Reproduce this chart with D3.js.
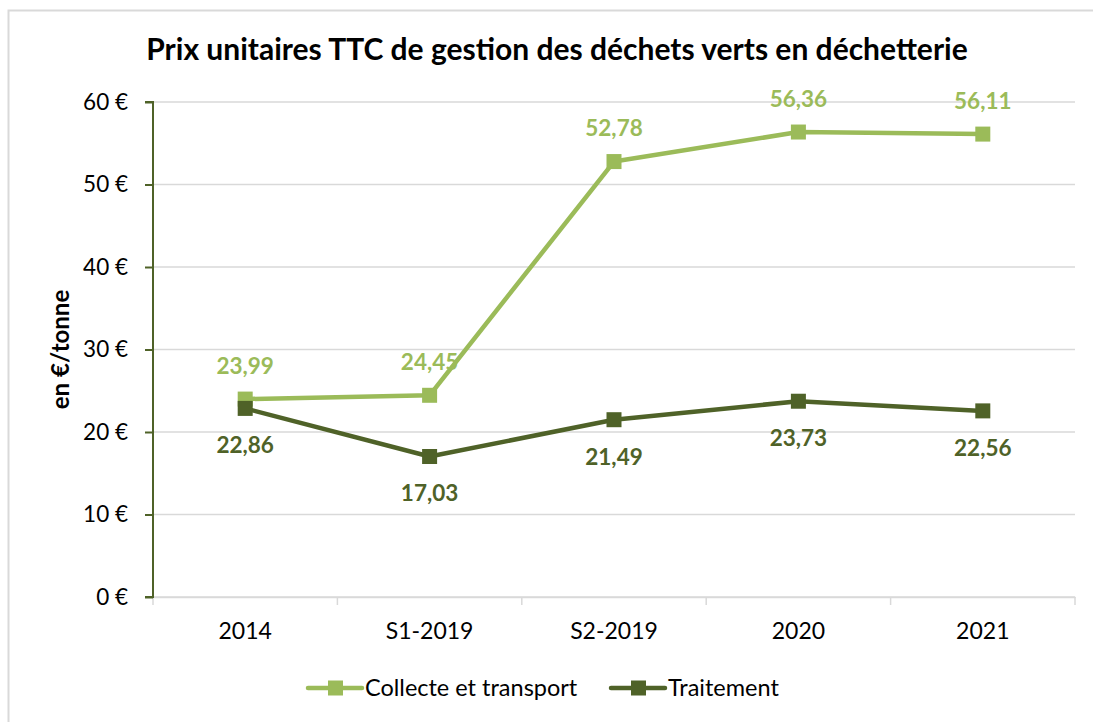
<!DOCTYPE html>
<html>
<head>
<meta charset="utf-8">
<script src="https://cdn.jsdelivr.net/npm/d3@7"></script>
<style>
  body { margin: 0; background: #fff; }
  text { font-family: Lato, "Open Sans", sans-serif; }
</style>
</head>
<body>
<div id="chart"></div>
<script>
const categories = ['2014', 'S1-2019', 'S2-2019', '2020', '2021'];
const collecte = [23.99, 24.45, 52.78, 56.36, 56.11];
const traitement = [22.86, 17.03, 21.49, 23.73, 22.56];
const yTicks = [0, 10, 20, 30, 40, 50, 60];

const series = [
  { name: 'Collecte et transport', values: collecte, color: '#9BBB59', dy: -33 },
  { name: 'Traitement', values: traitement, color: '#4F6228', dy: 37 }
];

const W = 1093, H = 722;
const margin = { top: 102, right: 18, bottom: 125, left: 153 };
const width = W - margin.left - margin.right,
  height = H - margin.top - margin.bottom;

const svg = d3.select('#chart').append('svg')
  .attr('width', W)
  .attr('height', H);

// chart border
svg.append('rect')
  .attr('x', 8.5).attr('y', 10.5)
  .attr('width', W).attr('height', H)
  .attr('fill', 'none')
  .attr('stroke', '#d9d9d9')
  .attr('stroke-width', 2);

svg.append('text')
  .attr('x', 557).attr('y', 60)
  .attr('text-anchor', 'middle')
  .attr('font-size', 30)
  .attr('font-weight', 'bold')
  .text('Prix unitaires TTC de gestion des déchets verts en déchetterie');

const g = svg.append('g')
  .attr('transform', `translate(${margin.left}, ${margin.top})`);

const x = d3.scaleBand().domain(categories).range([0, width]);
const y = d3.scaleLinear().domain([0, 60]).range([height, 0]);

// gridlines
g.append('g')
  .selectAll('line')
  .data(yTicks)
  .enter().append('line')
  .attr('x1', 0).attr('x2', width)
  .attr('y1', d => y(d)).attr('y2', d => y(d))
  .attr('stroke', '#d9d9d9')
  .attr('stroke-width', 1.5);

// x axis
const xAxis = g.append('g')
  .attr('transform', `translate(0, ${height})`)
  .call(d3.axisBottom(x).tickSize(0).tickPadding(26));
xAxis.select('.domain').attr('stroke', '#d9d9d9').attr('stroke-width', 1.5);
xAxis.selectAll('text').attr('font-size', 23).attr('fill', '#000')
  .style('font-family', 'Lato, "Open Sans", sans-serif');
xAxis.selectAll('.boundary')
  .data(d3.range(categories.length + 1))
  .enter().append('line')
  .attr('x1', i => i * x.step()).attr('x2', i => i * x.step())
  .attr('y1', 0).attr('y2', 8)
  .attr('stroke', '#d9d9d9')
  .attr('stroke-width', 1.5);

// y axis
const yAxis = g.append('g')
  .call(d3.axisLeft(y).tickValues(yTicks).tickSize(8).tickPadding(17)
    .tickFormat(d => d + ' €'));
yAxis.select('.domain').attr('stroke', '#4F6228').attr('stroke-width', 2)
  .attr('d', `M-8,0H0V${height}H-8`);
yAxis.selectAll('line').attr('stroke', '#4F6228').attr('stroke-width', 2);
yAxis.selectAll('text').attr('font-size', 22.5).attr('fill', '#000')
  .style('font-family', 'Lato, "Open Sans", sans-serif');

svg.append('text')
  .attr('transform', `translate(69, ${margin.top + height / 2}) rotate(-90)`)
  .attr('text-anchor', 'middle')
  .attr('font-size', 24)
  .attr('font-weight', 'bold')
  .text('en €/tonne');

const cx = (d, i) => x(categories[i]) + x.bandwidth() / 2;

// data labels (under the lines)
series.forEach(s => {
  g.append('g').selectAll('text')
    .data(s.values)
    .enter().append('text')
    .attr('x', cx)
    .attr('y', d => y(d) + s.dy)
    .attr('dy', '0.35em')
    .attr('text-anchor', 'middle')
    .attr('font-size', 22.5)
    .attr('font-weight', 'bold')
    .attr('fill', s.color)
    .text(d => d.toFixed(2).replace('.', ','));
});

const line = d3.line().x(cx).y(d => y(d));

series.forEach(s => {
  g.append('path')
    .datum(s.values)
    .attr('fill', 'none')
    .attr('stroke', s.color)
    .attr('stroke-width', 4.5)
    .attr('stroke-linejoin', 'round')
    .attr('d', line);
  g.append('g').selectAll('rect')
    .data(s.values)
    .enter().append('rect')
    .attr('x', (d, i) => cx(d, i) - 7.5)
    .attr('y', d => y(d) - 7.5)
    .attr('width', 15).attr('height', 15)
    .attr('fill', s.color);
});

// legend
const legendX = [308, 611];
series.forEach((s, i) => {
  const lg = svg.append('g').attr('transform', `translate(${legendX[i]}, 688)`);
  lg.append('line')
    .attr('x1', 0).attr('x2', 54)
    .attr('stroke', s.color).attr('stroke-width', 4.5)
    .attr('stroke-linecap', 'round');
  lg.append('rect')
    .attr('x', 20).attr('y', -7.5)
    .attr('width', 15).attr('height', 15)
    .attr('fill', s.color);
  lg.append('text')
    .attr('x', 57).attr('y', 0).attr('dy', '0.35em')
    .attr('font-size', 23.5)
    .text(s.name);
});
</script>
</body>
</html>
